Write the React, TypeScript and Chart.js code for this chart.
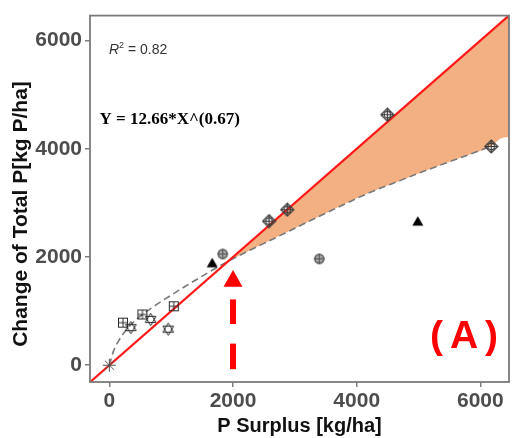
import { useEffect, useRef } from 'react';
import { Chart, registerables } from 'chart.js';

Chart.register(...registerables);

// Axis extents and tick values
const xRange = [-313, 6463];
const yRange = [-310, 6460];
const xTicks = [0, 2000, 4000, 6000];
const yTicks = [0, 2000, 4000, 6000];

// Observations, grouped by marker shape: [P surplus, change of total P]
const asteriskPts = [[0, 0]];
const squarePlusPts = [[220, 786], [535, 938], [1042, 1089]];
const hexagramPts = [[348, 695], [668, 847], [952, 666]];
const trianglePts = [[1663, 1893], [4988, 2662]];
const circlePlusPts = [[1833, 2056], [3395, 1966]];
const diamondPlusPts = [[2582, 2662], [2876, 2873], [4496, 4628], [6175, 4042]];

// Fitted power curve (dashed)
const fitX = [0, 70, 150, 230, 440, 710, 1030, 1250, 1920, 2750, 3500, 4190, 4720, 5260, 5790, 6180];
const fitY = [0, 270, 450, 590, 850, 1080, 1317, 1473, 1920, 2390, 2810, 3180, 3420, 3660, 3880, 4050];

// Lower edge of the shaded gap between the 1:1 line and the fit
const bandX = [1920, 2750, 3500, 4190, 4720, 5260, 5790, 6180, 6330, 6463];
const bandY = [1920, 2390, 2810, 3180, 3420, 3660, 3880, 4050, 4190, 4215];

// Threshold arrow
const arrowX = 2000;
const arrowDashes = [[1216, 762], [399, -73]];
const arrowTip = 1760;
const arrowBase = 1452;

const SANS = '"Liberation Sans", Arial, sans-serif';
const SERIF = '"Liberation Serif", "Times New Roman", serif';

const toXY = (pts: number[][]) => pts.map(([x, y]) => ({ x, y }));

function makeMarker(size: number, draw: (ctx: CanvasRenderingContext2D, c: number) => void) {
  const cv = document.createElement('canvas');
  cv.width = size;
  cv.height = size;
  const ctx = cv.getContext('2d') as CanvasRenderingContext2D;
  draw(ctx, size / 2);
  return cv;
}

function buildMarkers() {
  const squarePlus = makeMarker(12, (ctx, c) => {
    ctx.strokeStyle = '#2b2b2b';
    ctx.lineWidth = 1;
    ctx.strokeRect(1.5, 1.5, 9, 9);
    ctx.beginPath();
    ctx.moveTo(c, 1.5);
    ctx.lineTo(c, 10.5);
    ctx.moveTo(1.5, c);
    ctx.lineTo(10.5, c);
    ctx.stroke();
  });
  const hexagram = makeMarker(15, (ctx, c) => {
    ctx.strokeStyle = '#2b2b2b';
    ctx.lineWidth = 1;
    const r = 6.2;
    for (const start of [-90, 90]) {
      ctx.beginPath();
      for (let k = 0; k < 3; k++) {
        const a = ((start + k * 120) * Math.PI) / 180;
        const px = c + r * Math.cos(a);
        const py = c + r * Math.sin(a);
        if (k === 0) ctx.moveTo(px, py);
        else ctx.lineTo(px, py);
      }
      ctx.closePath();
      ctx.stroke();
    }
  });
  const diamondPlus = makeMarker(15, (ctx, c) => {
    ctx.strokeStyle = '#3a3a3a';
    ctx.lineWidth = 1.2;
    const r = 6.5;
    ctx.beginPath();
    ctx.moveTo(c, c - r);
    ctx.lineTo(c + r, c);
    ctx.lineTo(c, c + r);
    ctx.lineTo(c - r, c);
    ctx.closePath();
    ctx.stroke();
    ctx.beginPath();
    ctx.arc(c, c, 3.3, 0, Math.PI * 2);
    ctx.stroke();
    ctx.beginPath();
    ctx.moveTo(c, c - r);
    ctx.lineTo(c, c + r);
    ctx.moveTo(c - r, c);
    ctx.lineTo(c + r, c);
    ctx.stroke();
  });
  const circlePlus = makeMarker(13, (ctx, c) => {
    ctx.fillStyle = '#a6a6a6';
    ctx.strokeStyle = '#555555';
    ctx.lineWidth = 1.5;
    ctx.beginPath();
    ctx.arc(c, c, 4.5, 0, Math.PI * 2);
    ctx.fill();
    ctx.stroke();
    ctx.lineWidth = 1;
    ctx.beginPath();
    ctx.moveTo(c, c - 5.5);
    ctx.lineTo(c, c + 5.5);
    ctx.moveTo(c - 5.5, c);
    ctx.lineTo(c + 5.5, c);
    ctx.stroke();
  });
  const triangle = makeMarker(12, (ctx) => {
    ctx.fillStyle = '#000000';
    ctx.beginPath();
    ctx.moveTo(6, 1);
    ctx.lineTo(11.5, 10.5);
    ctx.lineTo(0.5, 10.5);
    ctx.closePath();
    ctx.fill();
  });
  const asterisk = makeMarker(15, (ctx, c) => {
    ctx.strokeStyle = '#555555';
    ctx.lineWidth = 1;
    ctx.beginPath();
    for (const deg of [0, 45, 90, 135]) {
      const a = (deg * Math.PI) / 180;
      ctx.moveTo(c - 6.5 * Math.cos(a), c - 6.5 * Math.sin(a));
      ctx.lineTo(c + 6.5 * Math.cos(a), c + 6.5 * Math.sin(a));
    }
    ctx.stroke();
  });
  return { squarePlus, hexagram, diamondPlus, circlePlus, triangle, asterisk };
}

// Arrow, panel frame and text annotations
const decorPlugin = {
  id: 'decor',
  afterDatasetsDraw(chart: any) {
    const { ctx, chartArea: a, scales } = chart;
    const xs = scales.x;
    const ys = scales.y;
    ctx.save();

    // red dashed arrow
    const ax = xs.getPixelForValue(arrowX);
    ctx.fillStyle = '#ff0000';
    for (const [y0, y1] of arrowDashes) {
      const p0 = ys.getPixelForValue(y0);
      const p1 = ys.getPixelForValue(y1);
      ctx.fillRect(ax - 3, p0, 6, p1 - p0);
    }
    const tip = ys.getPixelForValue(arrowTip);
    const base = ys.getPixelForValue(arrowBase);
    ctx.beginPath();
    ctx.moveTo(ax, tip);
    ctx.lineTo(ax + 9.5, base);
    ctx.lineTo(ax - 9.5, base);
    ctx.closePath();
    ctx.fill();

    // panel frame
    ctx.strokeStyle = '#7a7a7a';
    ctx.lineWidth = 1.8;
    ctx.strokeRect(a.left, a.top, a.right - a.left, a.bottom - a.top);

    // R² label
    ctx.fillStyle = '#333333';
    ctx.textBaseline = 'alphabetic';
    ctx.textAlign = 'left';
    let tx = a.left + 19;
    const ty = a.top + 38;
    ctx.font = `italic 14px ${SANS}`;
    ctx.fillText('R', tx, ty);
    tx += ctx.measureText('R').width;
    ctx.font = `9px ${SANS}`;
    ctx.fillText('2', tx, ty - 6);
    tx += ctx.measureText('2').width;
    ctx.font = `14px ${SANS}`;
    ctx.fillText(' = 0.82', tx, ty);

    // fitted equation
    ctx.fillStyle = '#000000';
    ctx.font = `bold 17px ${SERIF}`;
    ctx.fillText('Y = 12.66*X^(0.67)', a.left + 9.5, a.top + 108);

    // panel tag
    ctx.fillStyle = '#ff0000';
    ctx.font = `bold 39px ${SANS}`;
    ctx.fillText('(', 430, 348);
    ctx.fillText('A', 450, 348);
    ctx.fillText(')', 485, 348);

    // axis titles
    ctx.fillStyle = '#111111';
    ctx.textAlign = 'center';
    ctx.font = `bold 20px ${SANS}`;
    ctx.fillText('P Surplus [kg/ha]', (a.left + a.right) / 2, 432);
    ctx.translate(27, 214);
    ctx.rotate(-Math.PI / 2);
    ctx.font = `bold 21px ${SANS}`;
    ctx.fillText('Change of Total P[kg P/ha]', 0, 0);

    ctx.restore();
  },
};

export default function App() {
  const canvasRef = useRef<HTMLCanvasElement | null>(null);

  useEffect(() => {
    const canvas = canvasRef.current;
    if (!canvas) return;
    const m = buildMarkers();

    const pointSet = (pts: number[][], style: HTMLCanvasElement) => ({
      type: 'scatter',
      data: toXY(pts),
      pointStyle: style,
      pointRadius: 5,
      showLine: false,
      order: 0,
    });

    const axisLo = Math.min(xRange[0], yRange[0]);
    const axisHi = Math.max(xRange[1], yRange[1]);

    const tickFont = { family: SANS, size: 21, weight: 'bold' as const };

    const chart = new Chart(canvas, {
      type: 'scatter',
      data: {
        datasets: [
          pointSet(asteriskPts, m.asterisk),
          pointSet(squarePlusPts, m.squarePlus),
          pointSet(hexagramPts, m.hexagram),
          pointSet(trianglePts, m.triangle),
          pointSet(circlePlusPts, m.circlePlus),
          pointSet(diamondPlusPts, m.diamondPlus),
          {
            // 1:1 line
            data: [
              { x: axisLo, y: axisLo },
              { x: axisHi, y: axisHi },
            ],
            showLine: true,
            borderColor: '#ff1a1a',
            borderWidth: 2.2,
            pointRadius: 0,
            order: 1,
          },
          {
            // fitted curve
            data: fitX.map((x, i) => ({ x, y: fitY[i] })),
            showLine: true,
            borderColor: '#7a7a7a',
            borderWidth: 1.6,
            borderDash: [7, 4],
            cubicInterpolationMode: 'monotone',
            pointRadius: 0,
            order: 2,
          },
          {
            // shaded gap: lower edge
            data: bandX.map((x, i) => ({ x, y: bandY[i] })),
            showLine: true,
            borderWidth: 0,
            borderColor: 'rgba(0,0,0,0)',
            backgroundColor: 'rgb(243, 177, 131)',
            cubicInterpolationMode: 'monotone',
            pointRadius: 0,
            fill: 9,
            order: 3,
          },
          {
            // shaded gap: upper edge along the 1:1 line
            data: bandX.map((x) => ({ x, y: x })),
            showLine: true,
            borderWidth: 0,
            borderColor: 'rgba(0,0,0,0)',
            pointRadius: 0,
            fill: false,
            order: 4,
          },
        ],
      } as any,
      options: {
        animation: false,
        responsive: false,
        devicePixelRatio: 1,
        layout: { padding: { top: 9, right: 3, left: 0, bottom: 0 } },
        plugins: {
          legend: { display: false },
          tooltip: { enabled: false },
        },
        scales: {
          x: {
            type: 'linear',
            min: xRange[0],
            max: xRange[1],
            afterBuildTicks: (s: any) => {
              s.ticks = xTicks.map((v) => ({ value: v }));
            },
            afterFit: (s: any) => {
              s.height = 56;
            },
            border: { display: false },
            grid: {
              drawOnChartArea: false,
              drawTicks: true,
              tickLength: 5,
              color: '#7f7f7f',
              lineWidth: 1.5,
            },
            ticks: {
              font: tickFont,
              color: '#4d4d4d',
              padding: 2,
              maxRotation: 0,
              autoSkip: false,
              callback: (v: any) => String(v),
            },
          },
          y: {
            type: 'linear',
            min: yRange[0],
            max: yRange[1],
            afterBuildTicks: (s: any) => {
              s.ticks = yTicks.map((v) => ({ value: v }));
            },
            afterFit: (s: any) => {
              s.width = 90;
            },
            border: { display: false },
            grid: {
              drawOnChartArea: false,
              drawTicks: true,
              tickLength: 5,
              color: '#7f7f7f',
              lineWidth: 1.5,
            },
            ticks: {
              font: tickFont,
              color: '#4d4d4d',
              padding: 3,
              autoSkip: false,
              callback: (v: any) => String(v),
            },
          },
        },
      } as any,
      plugins: [decorPlugin],
    });

    return () => chart.destroy();
  }, []);

  return (
    <div style={{ position: 'absolute', left: 0, top: 0, width: 515, height: 438, background: '#ffffff' }}>
      <canvas ref={canvasRef} width={515} height={438} style={{ display: 'block' }} />
    </div>
  );
}
